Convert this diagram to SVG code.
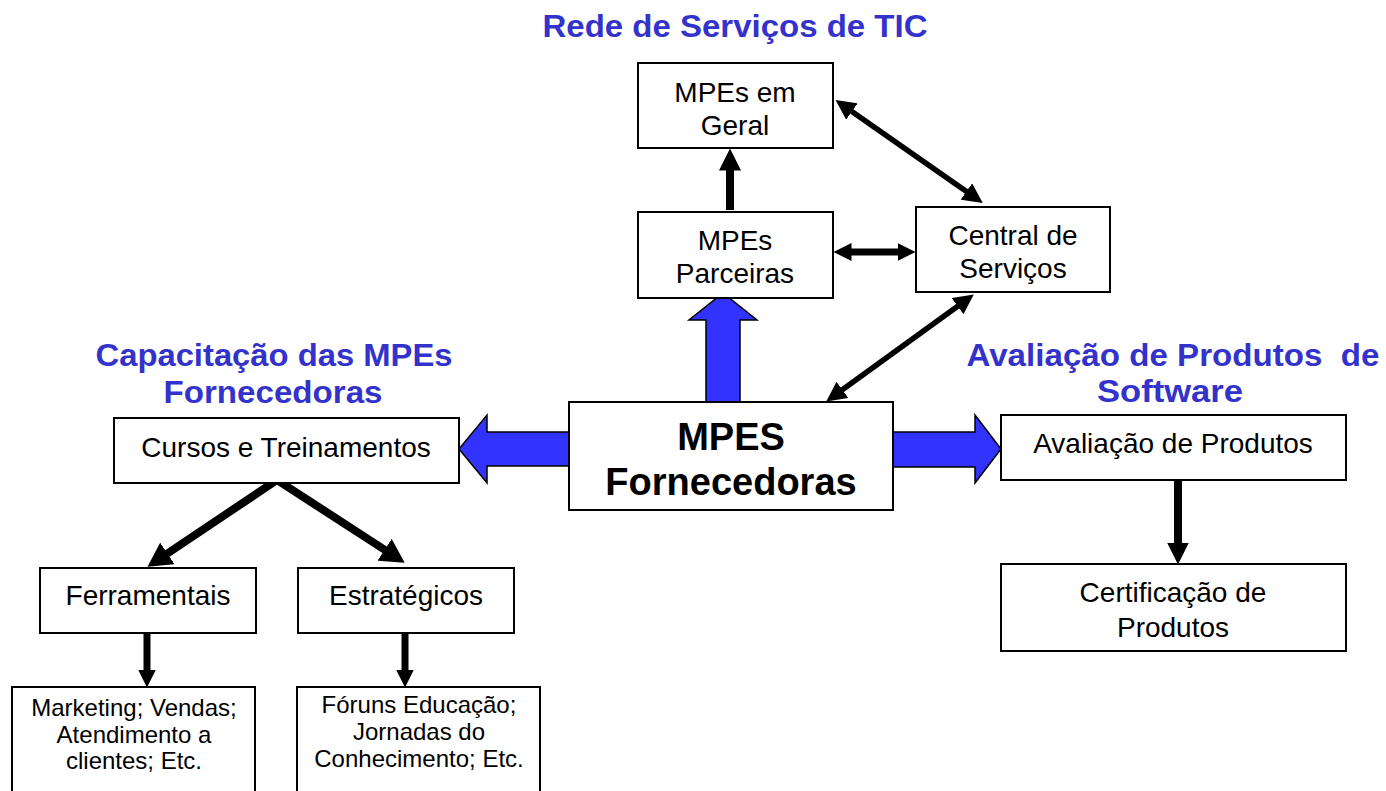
<svg xmlns="http://www.w3.org/2000/svg" width="1386" height="791" viewBox="0 0 1386 791">
<style>
.box{fill:#fff;stroke:#000;stroke-width:2}
.t{font-family:"Liberation Sans",Arial,sans-serif;font-size:28px;fill:#000;text-anchor:middle}
.s{font-family:"Liberation Sans",Arial,sans-serif;font-size:24px;fill:#000;text-anchor:middle}
.big{font-family:"Liberation Sans",Arial,sans-serif;font-size:38px;font-weight:bold;fill:#000;text-anchor:middle}
.ttl{font-family:"Liberation Sans",Arial,sans-serif;font-size:31px;font-weight:bold;fill:#3333CC;text-anchor:middle}
.blue{fill:#3333FF;stroke:#000;stroke-width:1.5;stroke-linejoin:miter}
.c{stroke:#000;fill:none}
</style>
<defs>
<marker id="a22" viewBox="0 0 22 22" markerWidth="22" markerHeight="22" refX="0.5" refY="11" markerUnits="userSpaceOnUse" orient="auto-start-reverse"><path d="M0,0 L22,11 L0,22 z" fill="#000"/></marker>
<marker id="a18" viewBox="0 0 18 18" markerWidth="18" markerHeight="18" refX="0.5" refY="9" markerUnits="userSpaceOnUse" orient="auto-start-reverse"><path d="M0,0 L18,9 L0,18 z" fill="#000"/></marker>
<marker id="a20" viewBox="0 0 20 20" markerWidth="20" markerHeight="20" refX="0.5" refY="10" markerUnits="userSpaceOnUse" orient="auto-start-reverse"><path d="M0,0 L20,10 L0,20 z" fill="#000"/></marker>
<marker id="a25" viewBox="0 0 24 26" markerWidth="24" markerHeight="26" refX="0.5" refY="13" markerUnits="userSpaceOnUse" orient="auto-start-reverse"><path d="M0,0 L24,13 L0,26 z" fill="#000"/></marker>
</defs>

<g id="titles">
<text class="ttl" x="735" y="37" textLength="385" lengthAdjust="spacingAndGlyphs">Rede de Serviços de TIC</text>
<text class="ttl" x="274" y="366" textLength="357" lengthAdjust="spacingAndGlyphs">Capacitação das MPEs</text>
<text class="ttl" x="273" y="403" textLength="219" lengthAdjust="spacingAndGlyphs">Fornecedoras</text>
<text class="ttl" x="1173" y="366" textLength="413" lengthAdjust="spacingAndGlyphs" xml:space="preserve">Avaliação de Produtos  de</text>
<text class="ttl" x="1170" y="402" textLength="146" lengthAdjust="spacingAndGlyphs">Software</text>
</g>

<g id="connectors">
<polygon class="blue" points="706,402 706,320 689,320 723,293 757,320 740,320 740,402"/>
<polygon class="blue" points="569,432 487,432 487,415 459,449 487,483 487,466 569,466"/>
<polygon class="blue" points="893,432 975,432 975,415 1001,449 975,483 975,467 893,467"/>
<line class="c" x1="730" y1="210" x2="730" y2="170" stroke-width="8" marker-end="url(#a22)"/>
<line class="c" x1="851" y1="252" x2="898" y2="252" stroke-width="7" marker-start="url(#a18)" marker-end="url(#a18)"/>
<line class="c" x1="851.5" y1="111.2" x2="966.8" y2="191.8" stroke-width="5.5" marker-start="url(#a20)" marker-end="url(#a20)"/>
<line class="c" x1="958" y1="305.9" x2="842" y2="390.1" stroke-width="5.5" marker-start="url(#a20)" marker-end="url(#a20)"/>
<path class="c" d="M167,553.7 L277,480 L385,550" stroke-width="8" stroke-linejoin="miter" stroke-miterlimit="10" marker-start="url(#a25)" marker-end="url(#a25)"/>
<line class="c" x1="147" y1="633" x2="147" y2="670" stroke-width="7" marker-end="url(#a18)"/>
<line class="c" x1="405" y1="633" x2="405" y2="670" stroke-width="7" marker-end="url(#a18)"/>
<line class="c" x1="1178" y1="480" x2="1178" y2="543" stroke-width="8" marker-end="url(#a22)"/>
</g>

<g id="n-geral"><rect class="box" x="638" y="63" width="195" height="85"/>
<text class="t" x="735" y="102">MPEs em</text><text class="t" x="735" y="135">Geral</text></g>
<g id="n-parceiras"><rect class="box" x="638" y="212" width="195" height="86"/>
<text class="t" x="735" y="250">MPEs</text><text class="t" x="735" y="283">Parceiras</text></g>
<g id="n-central"><rect class="box" x="916" y="207" width="194" height="85"/>
<text class="t" x="1013" y="245">Central de</text><text class="t" x="1013" y="278">Serviços</text></g>
<g id="n-mpes"><rect class="box" x="569" y="402" width="324" height="108"/>
<text class="big" x="731" y="450">MPES</text><text class="big" x="731" y="495">Fornecedoras</text></g>
<g id="n-cursos"><rect class="box" x="114" y="418" width="345" height="65"/>
<text class="t" x="286" y="457">Cursos e Treinamentos</text></g>
<g id="n-ferramentais"><rect class="box" x="40" y="568" width="216" height="65"/>
<text class="t" x="148" y="605">Ferramentais</text></g>
<g id="n-estrategicos"><rect class="box" x="298" y="568" width="216" height="65"/>
<text class="t" x="406" y="605">Estratégicos</text></g>
<g id="n-marketing"><rect class="box" x="12" y="687" width="243" height="120"/>
<text class="s" x="134" y="716">Marketing; Vendas;</text><text class="s" x="134" y="743">Atendimento a</text><text class="s" x="134" y="769">clientes; Etc.</text></g>
<g id="n-foruns"><rect class="box" x="297" y="687" width="243" height="120"/>
<text class="s" x="419" y="713">Fóruns Educação;</text><text class="s" x="419" y="740">Jornadas do</text><text class="s" x="419" y="767">Conhecimento; Etc.</text></g>
<g id="n-avaliacao"><rect class="box" x="1001" y="415" width="345" height="65"/>
<text class="t" x="1173" y="453">Avaliação de Produtos</text></g>
<g id="n-certificacao"><rect class="box" x="1001" y="564" width="345" height="87"/>
<text class="t" x="1173" y="602">Certificação de</text><text class="t" x="1173" y="637">Produtos</text></g>
</svg>
